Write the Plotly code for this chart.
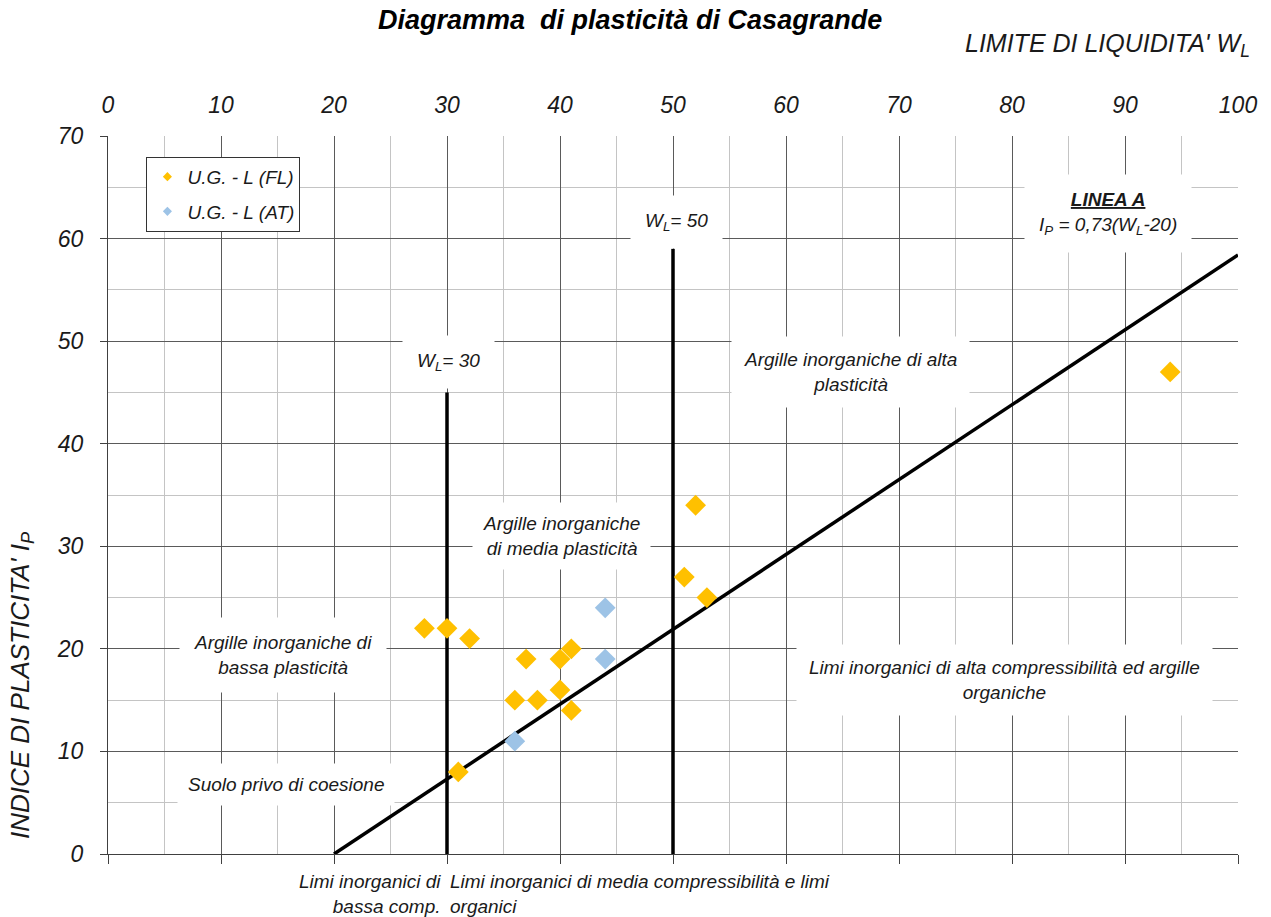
import plotly.graph_objects as go

# ---------------- data ----------------
fl_wl = [28, 30, 32, 31, 36, 37, 38, 40, 40, 41, 41, 51, 52, 53, 94]
fl_ip = [22, 22, 21, 8, 15, 19, 15, 16, 19, 20, 14, 27, 34, 25, 47]
at_wl = [44, 44, 36]
at_ip = [24, 19, 11]
linea_a_wl = [20, 100]
linea_a_ip = [0, 58.4]
wl30_x = [30, 30]
wl30_y = [0, 45]
wl50_x = [50, 50]
wl50_y = [0, 59]
x_ticks = [0, 10, 20, 30, 40, 50, 60, 70, 80, 90, 100]
y_ticks = [0, 10, 20, 30, 40, 50, 60, 70]

FONT = "Liberation Sans, Arial, sans-serif"
TXT = "#1a1a1a"
MAJOR = "#5a5a5a"
MINOR = "#c4c4c4"
ORANGE = "#FFC000"
BLUE = "#9DC3E6"

fig = go.Figure()

# reference lines
for xs, ys in [(wl30_x, wl30_y), (wl50_x, wl50_y), (linea_a_wl, linea_a_ip)]:
    fig.add_trace(go.Scatter(x=xs, y=ys, mode="lines",
                             line=dict(color="black", width=3.5),
                             showlegend=False, hoverinfo="skip"))

fig.add_trace(go.Scatter(x=fl_wl, y=fl_ip, mode="markers", name="U.G. - L (FL)",
                         legendgroup="fl", showlegend=False,
                         marker=dict(symbol="diamond", size=16, color=ORANGE)))
fig.add_trace(go.Scatter(x=at_wl, y=at_ip, mode="markers", name="U.G. - L (AT)",
                         legendgroup="at", showlegend=False,
                         marker=dict(symbol="diamond", size=16, color=BLUE)))

# legend entries (small diamonds as in the original legend)
fig.add_trace(go.Scatter(x=[None], y=[None], mode="markers", name="U.G. - L (FL)",
                         legendgroup="fl",
                         marker=dict(symbol="diamond", size=7, color=ORANGE)))
fig.add_trace(go.Scatter(x=[None], y=[None], mode="markers", name="U.G. - L (AT)",
                         legendgroup="at",
                         marker=dict(symbol="diamond", size=7, color=BLUE)))

# dummy trace to materialise the bottom axis (ticks only)
fig.add_trace(go.Scatter(x=[None], y=[None], xaxis="x2", yaxis="y",
                         showlegend=False, hoverinfo="skip"))

tickfont = dict(family=FONT, size=23, color=TXT, style="italic")

fig.update_layout(
    width=1271, height=917,
    margin=dict(l=108, r=33, t=136, b=63),
    paper_bgcolor="white", plot_bgcolor="white",
    font=dict(family=FONT, color=TXT),
    xaxis=dict(range=[0, 100], side="top", tickmode="array", tickvals=x_ticks,
               tickfont=tickfont, ticks="", showline=False, zeroline=False,
               showgrid=True, gridcolor=MAJOR, gridwidth=1,
               minor=dict(dtick=5, showgrid=True, gridcolor=MINOR, gridwidth=1),
               ticklabelstandoff=17),
    xaxis2=dict(range=[0, 100], overlaying="x", anchor="y", side="bottom",
                tickmode="array", tickvals=x_ticks, ticks="outside", ticklen=9,
                tickcolor="#404040", showline=True, linecolor="#404040", linewidth=1,
                showgrid=False, zeroline=False, showticklabels=False),
    yaxis=dict(range=[0, 70], tickmode="array", tickvals=y_ticks, tickfont=tickfont,
               ticks="outside", ticklen=7, tickcolor="#404040",
               showline=True, linecolor="#404040", linewidth=1, zeroline=False,
               showgrid=True, gridcolor=MAJOR, gridwidth=1,
               minor=dict(dtick=5, showgrid=True, gridcolor=MINOR, gridwidth=1),
               ticklabelstandoff=12),
    legend=dict(x=0.034, y=0.971, xanchor="left", yanchor="top",
                bgcolor="white", bordercolor="#333", borderwidth=1,
                font=dict(family=FONT, size=19, color=TXT, style="italic"),
                itemsizing="trace", itemwidth=30, tracegroupgap=7,
                traceorder="grouped"),
    showlegend=True,
)

ann_font = dict(family=FONT, size=19, color=TXT, style="italic")

def box(text, x, y, pad=14, align="center", xanchor="center", yanchor="middle",
        xref="x", yref="y", font=None, bg="white"):
    fig.add_annotation(text=text, x=x, y=y, xref=xref, yref=yref, showarrow=False,
                       align=align, xanchor=xanchor, yanchor=yanchor,
                       font=font or ann_font, bgcolor=bg, borderpad=pad)

box("W<sub>L</sub>= 30", 30.1, 48, pad=14)
box("W<sub>L</sub>= 50", 50.3, 61.6, pad=14)
box("<b><u>LINEA A</u></b><br>I<sub>P</sub> = 0,73(W<sub>L</sub>-20)", 88.5, 62.4, pad=14)
box("Argille inorganiche di alta<br>plasticità", 65.7, 47.0, pad=12)
box("Argille inorganiche<br>di media plasticità", 40.1, 31.0, pad=10)
box("Argille inorganiche di<br>bassa plasticità", 15.5, 19.4, pad=14)
box("Limi inorganici di alta compressibilità ed argille<br>organiche", 79.3, 17.0, pad=12)
box("Suolo privo di coesione", 15.75, 6.8, pad=10)

# labels below the plot
box("Limi inorganici di<br>bassa comp.", 29.6, -0.056, pad=0, align="right",
    xanchor="right", yanchor="middle", yref="paper", bg=None)
box("Limi inorganici di media compressibilità e limi<br>organici", 30.2, -0.056, pad=0,
    align="left", xanchor="left", yanchor="middle", yref="paper", bg=None)

# titles
fig.add_annotation(text="<b>Diagramma  di plasticità di Casagrande</b>",
                   x=0.462, y=1.1616, xref="paper", yref="paper", showarrow=False,
                   xanchor="center", yanchor="middle",
                   font=dict(family=FONT, size=27, color="black", style="italic"))
fig.add_annotation(text="LIMITE DI LIQUIDITA' W<sub>L</sub>",
                   x=1.0124, y=1.1267, xref="paper", yref="paper", showarrow=False,
                   xanchor="right", yanchor="middle",
                   font=dict(family=FONT, size=25, color=TXT, style="italic"))
fig.add_annotation(text="INDICE DI PLASTICITA' I<sub>P</sub>",
                   x=-0.0761, y=0.2354, xref="paper", yref="paper", showarrow=False,
                   xanchor="center", yanchor="middle", textangle=-90,
                   font=dict(family=FONT, size=26, color=TXT, style="italic"))

fig.write_html("out.html")
